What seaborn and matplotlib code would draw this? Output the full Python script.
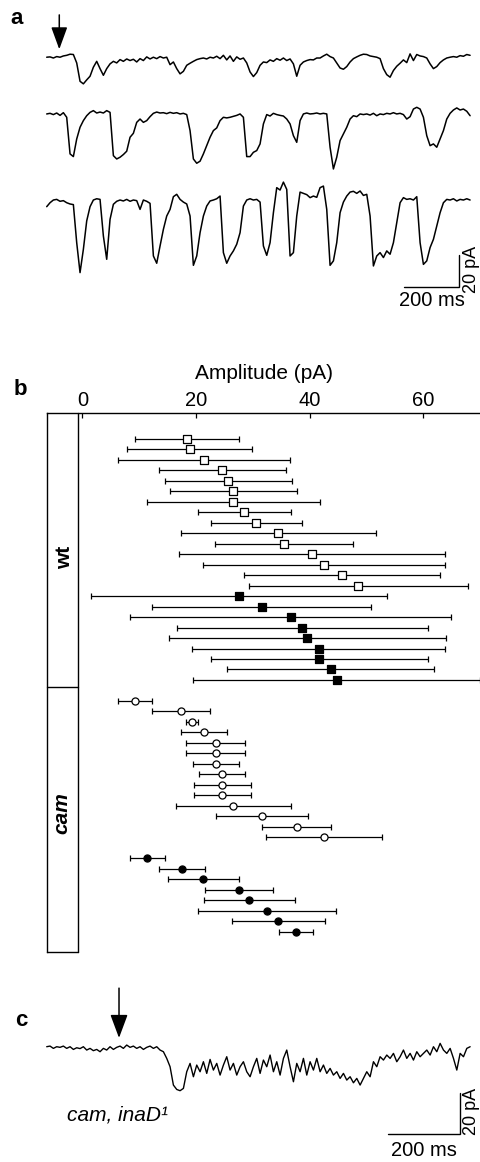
import numpy as np
import pandas as pd
import seaborn as sns
import matplotlib.pyplot as plt

# ---- panel a: three sweeps of light-induced current (pA), one sample every ~12.2 ms
dt_a = 12.19
trace_a1 = [-0.6, -0.4, -1.1, -0.2, -0.6, 0.2, 0.6, 1.3, 1.1, -4.2,
            -15.8, -17.4, -14.9, -12.6, -6.9, -3.2, -7.8, -12.0, -7.8, -4.8,
            -3.2, -4.2, -2.1, -3.2, -1.7, -2.7, -1.9, -3.6, -1.5, -2.7,
            -0.4, -1.7, -0.6, -1.5, -0.2, -1.1, -0.6, -5.3, -3.6, -7.8,
            -11.1, -9.5, -5.7, -4.4, -3.2, -2.1, -1.5, -1.1, -1.7, -0.6,
            -1.1, 0.0, -1.5, 0.6, -2.3, 0.2, -3.2, -0.4, -1.9, -1.1,
            -4.2, -9.9, -12.8, -10.3, -5.7, -3.6, -4.0, -2.3, -3.2, -1.5,
            -2.5, -1.1, -2.7, -1.7, -4.8, -12.6, -5.7, -3.6, -2.7, -2.1,
            -2.3, -1.1, -1.1, 0.2, 1.3, -0.2, -1.1, -4.2, -7.4, -8.2,
            -6.5, -3.6, -1.5, -0.4, 0.6, 1.3, 1.1, 0.2, -0.2, -0.6,
            -1.5, -7.8, -11.6, -13.2, -9.0, -6.3, -4.4, -2.3, -4.0, 1.5,
            -2.7, 1.1, 0.2, -0.2, -1.1, -4.8, -7.8, -6.5, -4.0, -2.3,
            -1.1, -0.6, -0.2, -0.6, 0.4, 0.0, 1.1, 0.6]
trace_a2 = [-0.4, 0.0, -0.8, 0.2, -1.3, 0.4, -2.5, -25.6, -27.3, -16.2,
            -8.8, -4.6, -1.5, 0.6, 1.7, 0.2, 0.8, 0.2, 1.7, 0.6,
            -26.7, -28.8, -27.7, -26.0, -23.9, -15.1, -12.6, -5.7, -3.6, -5.7,
            -4.6, -2.1, 0.0, 0.8, 0.2, 0.4, -0.2, 0.6, 0.0, 0.4,
            -0.4, 0.0, -0.8, -10.9, -28.8, -31.5, -30.2, -25.6, -20.4, -15.1,
            -10.9, -9.2, -4.6, -2.5, -2.9, -2.5, -1.9, -1.3, -0.4, -2.5,
            -27.3, -27.3, -24.6, -23.5, -19.3, -6.7, -0.8, -1.7, 0.0, -0.8,
            -1.3, -1.7, -3.6, -6.7, -14.1, -18.3, -4.6, -0.4, 0.2, -0.4,
            -0.2, 0.2, -0.4, 0.0, -0.4, -21.4, -35.1, -27.7, -17.2, -13.0,
            -8.8, -3.6, -1.5, -2.1, -0.4, -0.8, -0.4, -1.1, 0.0, -1.5,
            -0.4, -0.8, 0.0, -0.4, 0.4, -0.4, 0.0, -0.8, -3.6, -2.1,
            2.7, 3.8, 2.7, -2.5, -14.1, -20.4, -19.3, -21.4, -16.2, -10.9,
            -3.6, 0.0, 2.1, 3.4, 2.1, 2.7, 1.3, -1.5]
trace_a3 = [-4.2, -1.7, 0.0, 0.4, -0.8, -0.4, -1.7, -2.5, -2.9, -26.9,
            -45.8, -31.1, -13.2, -4.2, 0.0, 0.8, 0.4, -22.7, -37.4, -12.2,
            -2.7, -0.8, 0.0, -0.6, 0.4, -0.8, 0.0, -0.4, -5.9, 0.0,
            -0.8, -2.1, -35.3, -39.9, -29.0, -18.5, -10.1, -5.9, 2.1, 3.6,
            0.4, -1.3, -2.5, -10.1, -41.2, -35.3, -20.6, -10.1, -3.8, -0.6,
            0.0, 0.8, 2.5, -33.2, -39.9, -35.3, -32.1, -27.9, -20.6, -3.8,
            0.0, 0.8, 0.0, 0.4, -1.3, -29.0, -34.9, -26.9, -8.0, 7.8,
            6.3, 11.3, 6.7, -35.3, -33.2, -10.1, 5.0, 4.2, 3.4, 1.5,
            2.5, 1.7, 7.8, 8.8, -5.9, -41.2, -38.4, -26.9, -8.0, -1.3,
            2.5, 5.0, 5.5, 4.2, 5.7, 2.9, 3.6, -10.1, -41.6, -35.3,
            -33.2, -36.3, -32.1, -34.2, -26.9, -14.3, -1.7, 1.5, 0.4, 0.8,
            0.0, 2.1, -26.9, -40.6, -38.4, -30.0, -24.8, -16.4, -8.0, -1.7,
            0.4, 0.0, 0.8, -0.6, 0.4, 0.0, 0.8, 0.0]
offsets_a = [0.0, -36.0, -90.7]   # where each sweep sits on the shared pA axis

# ---- panel c: cam, inaD1 sweep (pA), one sample every ~9.3 ms
dt_c = 9.30
trace_c = [0.3, 0.6, -0.5, 0.3, 0.0, 0.6, -0.5, 0.3, -1.0, -0.2,
           -0.6, 0.3, -1.3, -0.5, -1.6, -1.0, -2.1, -0.5, -1.3, 0.3,
           -1.0, 0.0, 0.6, -0.5, 1.1, 0.0, 0.6, -0.5, 0.3, -1.0,
           0.0, 0.6, -0.5, 0.3, -1.3, -2.1, -5.3, -9.3, -18.1, -20.2,
           -20.8, -19.7, -11.7, -7.7, -14.1, -8.5, -11.7, -6.9, -12.5, -5.8,
           -10.9, -7.7, -13.3, -8.5, -4.5, -10.9, -7.7, -13.3, -9.3, -6.9,
           -11.7, -14.1, -9.3, -5.3, -12.5, -6.1, -9.3, -3.7, -11.7, -6.9,
           -13.3, -5.3, -1.3, -9.3, -16.5, -7.7, -11.7, -5.3, -13.3, -6.9,
           -10.9, -5.3, -11.7, -8.5, -12.5, -10.1, -13.3, -11.7, -14.9, -12.5,
           -15.7, -14.1, -17.0, -14.9, -18.1, -14.9, -11.7, -14.1, -6.9, -9.3,
           -4.5, -6.1, -3.7, -5.3, -2.9, -6.9, -4.5, -1.3, -5.3, -2.9,
           -6.1, -2.1, -4.5, -2.9, -1.3, -3.7, 0.3, -2.1, 1.9, -1.3,
           -2.9, -0.5, -5.3, -10.9, -2.9, -4.5, -0.5, 0.3]

# ---- panel b: bump amplitude, mean +/- sd for each cell
wt_open_mean = [18.4, 18.9, 21.4, 24.6, 25.7, 26.6, 26.6, 28.5, 30.6, 34.5, 35.5, 40.4, 42.5, 45.7, 48.6]
wt_open_err = [9.2, 11.0, 15.2, 11.2, 11.2, 11.2, 15.2, 8.2, 8.0, 17.2, 12.2, 23.4, 21.3, 17.2, 19.3]
wt_filled_mean = [27.6, 31.6, 36.7, 38.7, 39.6, 41.6, 41.7, 43.7, 44.8]
wt_filled_err = [26.1, 19.3, 28.3, 22.1, 24.4, 22.3, 19.1, 18.2, 25.3]
cam_open_mean = [9.2, 17.3, 19.3, 21.4, 23.5, 23.5, 23.5, 24.6, 24.6, 24.6, 26.6, 31.7, 37.7, 42.6]
cam_open_err = [3.0, 5.1, 1.1, 4.1, 5.2, 5.2, 4.1, 4.1, 5.0, 5.0, 10.1, 8.1, 6.0, 10.2]
cam_filled_mean = [11.4, 17.5, 21.3, 27.6, 29.4, 32.5, 34.5, 37.6]
cam_filled_err = [3.1, 4.1, 6.2, 6.0, 8.0, 12.1, 8.2, 3.0]
amp_ticks = [0, 20, 40, 60]

SCALE_MS = 200
SCALE_PA = 20

W, H = 481, 1162

sns.set_theme(style='white')
plt.rcParams['font.family'] = ['Liberation Sans', 'DejaVu Sans']
plt.rcParams['text.color'] = 'black'
plt.rcParams['axes.labelcolor'] = 'black'
plt.rcParams['xtick.color'] = 'black'

fig = plt.figure(figsize=(W / 100, H / 100), dpi=100)


def px_axes(x0, y0, x1, y1):
    # axes placed by pixel box (top-left origin)
    return fig.add_axes([x0 / W, 1 - y1 / H, (x1 - x0) / W, (y1 - y0) / H])


def draw_arrow(ax, x, y_tip, y_top, hl, hw):
    ax.annotate('', xy=(x, y_tip), xytext=(x, y_top),
                arrowprops=dict(arrowstyle=f'-|>,head_length={hl},head_width={hw}',
                                mutation_scale=1, color='black', lw=1.1,
                                shrinkA=0, shrinkB=0))


def scale_bar(ax, x_end, y_low, ms_y, pa_x, pa_y):
    ax.plot([x_end - SCALE_MS, x_end, x_end], [y_low, y_low, y_low + SCALE_PA],
            color='black', lw=1.0, solid_joinstyle='miter')
    ax.text(x_end - SCALE_MS / 2, ms_y, f'{SCALE_MS} ms', ha='center', va='center', fontsize=14.5)
    ax.text(pa_x, pa_y, f'{SCALE_PA} pA', ha='center', va='center', rotation=90,
            fontsize=13, clip_on=False)


# ---------------- panel a
ax_a = px_axes(40, 0, 481, 320)
for vals, off in zip([trace_a1, trace_a2, trace_a3], offsets_a):
    t = np.arange(len(vals)) * dt_a
    sns.lineplot(x=t, y=np.array(vals) + off, ax=ax_a, color='black', lw=1.1, estimator=None)
ax_a.set_xlim(-24.5, 1588)
ax_a.set_ylim(-166.4, 35.5)
ax_a.axis('off')
draw_arrow(ax_a, 46, 4.4, 26.1, 13.7, 5.0)
scale_bar(ax_a, 1507.5, -145.4, -154.4, 1552, -134.8)

# ---------------- panel b
groups = [
    ('wt', 'open', 's', wt_open_mean, wt_open_err, 0),
    ('wt', 'filled', 's', wt_filled_mean, wt_filled_err, 0),
    ('cam', 'open', 'o', cam_open_mean, cam_open_err, 1),
    ('cam', 'filled', 'o', cam_filled_mean, cam_filled_err, 1),
]
frames = []
row = 0
for geno, fill, marker, means, errs, gap in groups:
    row += gap
    n = len(means)
    frames.append(pd.DataFrame({'genotype': geno, 'fill': fill, 'marker': marker,
                                'amp': means, 'sd': errs, 'row': np.arange(row, row + n)}))
    row += n
df = pd.concat(frames, ignore_index=True)

ax_b = px_axes(47, 413, 481, 952)
for (geno, fill), sub in df.groupby(['genotype', 'fill'], sort=False):
    ax_b.errorbar(sub['amp'], sub['row'], xerr=sub['sd'], fmt='none', ecolor='black',
                  elinewidth=0.9, capsize=2.2, capthick=0.9, zorder=2)
    marker = sub['marker'].iloc[0]
    size = 28 if marker == 's' else 26
    sns.scatterplot(data=sub, x='amp', y='row', marker=marker, s=size,
                    facecolor='white' if fill == 'open' else 'black',
                    edgecolor='black', linewidth=0.9, ax=ax_b, zorder=3)

x_lo, x_hi = -6.25, 70.2
y_top, y_bot = -2.45, 48.93
ax_b.set_xlim(x_lo, x_hi)
ax_b.set_ylim(y_bot, y_top)
ax_b.xaxis.tick_top()
ax_b.xaxis.set_label_position('top')
ax_b.set_xticks(amp_ticks)
ax_b.set_xlabel('Amplitude (pA)', fontsize=15, labelpad=9)
ax_b.set_ylabel('')
ax_b.set_yticks([])
ax_b.tick_params(axis='x', direction='in', length=3.6, width=0.9, labelsize=14.5, pad=2,
                 top=True, bottom=False, colors='black')
for side in ['right', 'bottom']:
    ax_b.spines[side].set_visible(False)
for side in ['top', 'left']:
    ax_b.spines[side].set_color('black')
    ax_b.spines[side].set_linewidth(1.0)

# label column on the left: divider, bottom edge and inner line
y_axis_x = -0.8
divider = 23.64
ax_b.plot([y_axis_x, y_axis_x], [y_top, y_bot], color='black', lw=1.0, clip_on=False)
ax_b.plot([x_lo, y_axis_x], [divider, divider], color='black', lw=1.0, clip_on=False)
ax_b.plot([x_lo, y_axis_x], [y_bot, y_bot], color='black', lw=1.0, clip_on=False)
ax_b.text(-3.1, 11.3, 'wt', rotation=90, ha='center', va='center', fontsize=15, fontweight='bold')
ax_b.text(-3.6, 35.7, 'cam', rotation=90, ha='center', va='center', fontsize=15,
          fontweight='bold', fontstyle='italic')

# ---------------- panel c
ax_c = px_axes(40, 975, 481, 1162)
t_c = np.arange(len(trace_c)) * dt_c
sns.lineplot(x=t_c, y=trace_c, ax=ax_c, color='black', lw=1.0, estimator=None)
ax_c.set_xlim(-18.7, 1211.4)
ax_c.set_ylim(-55.0, 34.7)
ax_c.axis('off')
draw_arrow(ax_c, 201.7, 4.5, 28.4, 14.5, 5.4)
scale_bar(ax_c, 1152.9, -41.7, -49.3, 1185, -30.6)
ax_c.text(55.8, -32.5, 'cam, inaD¹', ha='left', va='center', fontsize=15, fontstyle='italic')

# panel letters
for letter, (x, y) in {'a': (17, 19), 'b': (20, 389), 'c': (21, 1021)}.items():
    fig.text(x / W, 1 - y / H, letter, ha='center', va='center', fontsize=16, fontweight='heavy')

fig.savefig('out.png', dpi=100)
